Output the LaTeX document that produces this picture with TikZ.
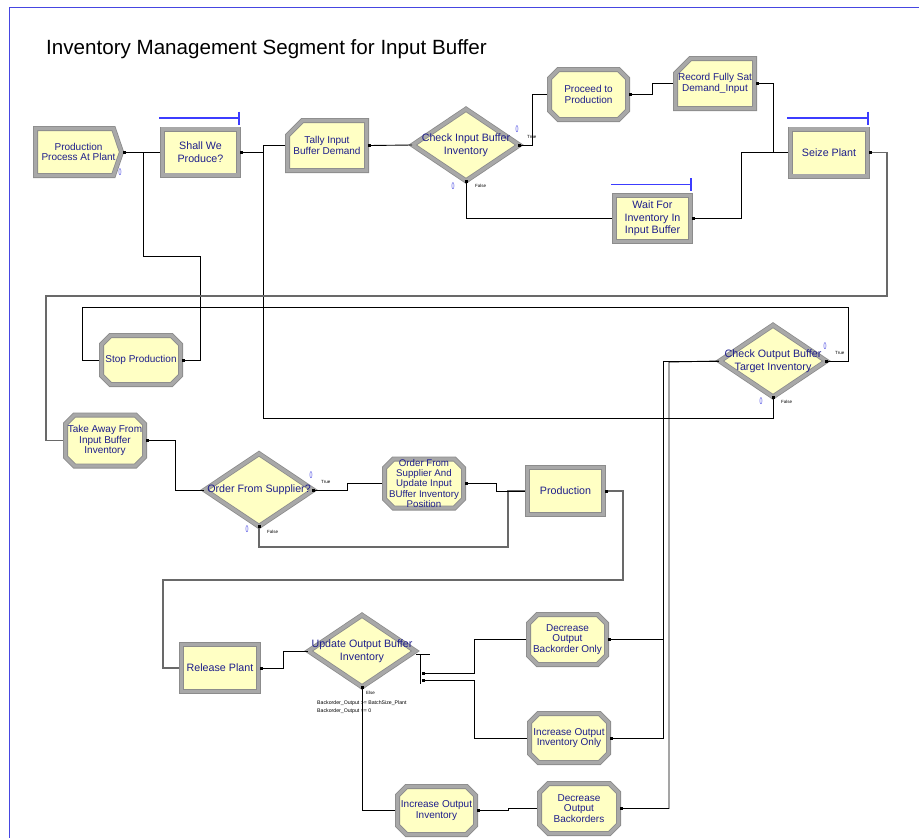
\documentclass[tikz,border=0pt]{standalone}
\usepackage{fontspec}
\setmainfont{Liberation Sans}
\usetikzlibrary{shapes.geometric}
\usetikzlibrary{backgrounds}

\definecolor{modfill}{RGB}{255,255,196}
\definecolor{bevel}{RGB}{168,168,168}
\definecolor{beveldark}{RGB}{140,140,140}
\definecolor{modtext}{RGB}{30,30,140}
\definecolor{resblue}{RGB}{60,60,255}
\definecolor{frameblue}{RGB}{70,70,225}
\definecolor{connalt}{RGB}{105,105,105}

% inner corners of a module node (band is 5pt wide)
\newcommand{\modcorners}[1]{%
  \path (#1.north west) ++(2.5,2.5) coordinate (nw)
        (#1.north east) ++(-2.5,2.5) coordinate (ne)
        (#1.south east) ++(-2.5,-2.5) coordinate (se)
        (#1.south west) ++(2.5,-2.5) coordinate (sw);}
\newcommand{\modbox}[1]{\modcorners{#1}%
  \begin{pgfonlayer}{background}
    \draw[module] (nw) -- (ne) -- (se) -- (sw) -- cycle;
  \end{pgfonlayer}}
\newcommand{\modocto}[1]{\modcorners{#1}%
  \begin{pgfonlayer}{background}
    \draw[module] ([xshift=9pt]nw) -- ([xshift=-9pt]ne) -- ([yshift=-9pt]ne) -- ([yshift=9pt]se)
      -- ([xshift=-9pt]se) -- ([xshift=9pt]sw) -- ([yshift=9pt]sw) -- ([yshift=-9pt]nw) -- cycle;
  \end{pgfonlayer}}
\newcommand{\modrecord}[1]{\modcorners{#1}%
  \begin{pgfonlayer}{background}
    \draw[module] ([xshift=15pt]nw) -- (ne) -- (se) -- (sw) -- ([yshift=-15pt]nw) -- cycle;
  \end{pgfonlayer}}
\newcommand{\modcreate}[1]{\modcorners{#1}%
  \begin{pgfonlayer}{background}
    \draw[module] (nw) -- ([xshift=-8pt]ne) -- ([xshift=-2.5pt]#1.east) -- ([xshift=-8pt]se)
      -- (sw) -- cycle;
  \end{pgfonlayer}}

\begin{document}
\begin{tikzpicture}[x=1pt, y=-1pt,
    module/.style={draw=beveldark, line width=0.8pt, double=bevel, double distance=3.4pt,
      fill=modfill},
    modnode/.style={rectangle, inner sep=0pt, outer sep=0pt},
    sz/.style 2 args={minimum width=#1, minimum height=#2},
    decide/.style={module, diamond, inner sep=0pt, minimum width=107, minimum height=72},
    modlabel/.style={text=modtext, align=center, inner sep=0pt},
    txt/.style={label={[modlabel, font=\fontsize{10}{10.5}\selectfont]center:#1}},
    bigtxt/.style={label={[modlabel, font=\fontsize{10.7}{12.5}\selectfont]center:#1}},
    smalltxt/.style={label={[modlabel, font=\fontsize{9.7}{10.2}\selectfont]center:#1}},
    dtxt/.style={label={[modlabel, font=\fontsize{10.7}{13}\selectfont]center:#1}},
    cnt/.style={text=frameblue, inner sep=0pt, xscale=0.55, font=\fontsize{9.5}{9.5}\selectfont},
    tinylab/.style={inner sep=0pt, anchor=west, font=\fontsize{4.5}{5}\selectfont},
    condlab/.style={inner sep=0pt, anchor=west, font=\fontsize{5.2}{6}\selectfont},
    conn/.style={draw=black, line width=0.9pt},
    connalt/.style={draw=connalt, line width=1.3pt},
    resbar/.style={draw=resblue, line width=1.2pt}]
  \path[use as bounding box] (0,0) rectangle (919,838);
  \draw[frameblue, line width=1pt] (9.5,838) -- (9.5,7.5) -- (919,7.5);

  \node[anchor=base west, inner sep=0pt, font=\fontsize{20.6}{24}\selectfont] (title)
    at (46,54.5) {Inventory Management Segment for Input Buffer};

  % upper row
  \node[modnode, sz={91}{52}, txt={Production\\Process At Plant}] (create) at (78.5,152) {};
  \modcreate{create}
  \node[modnode, sz={81}{51}, bigtxt={Shall We\\Produce?}] (shall) at (200.5,152) {};
  \modbox{shall}
  \node[modnode, sz={84}{55}, txt={Tally Input\\Buffer Demand}] (tally) at (327,145.5) {};
  \modrecord{tally}
  \node[decide, dtxt={Check Input Buffer\\Inventory}] (chkin) at (466,145) {};
  \node[modnode, sz={83}{55}, txt={Proceed to\\Production}] (proceed) at (588.5,94.5) {};
  \modocto{proceed}
  \node[modnode, sz={84}{55}, txt={Record Fully Sat\\Demand\_Input}] (recfull) at (715,83.5) {};
  \modrecord{recfull}
  \node[modnode, sz={82}{52}, bigtxt={Seize Plant}] (seize) at (829,152.5) {};
  \modbox{seize}
  \node[modnode, sz={81}{51}, bigtxt={Wait For\\Inventory In\\Input Buffer}] (waitfor) at (652.5,218.5) {};
  \modbox{waitfor}

  % middle
  \node[modnode, sz={84}{54}, txt={Stop Production}] (stopprod) at (141,360) {};
  \modocto{stopprod}
  \node[decide, dtxt={Check Output Buffer\\Target Inventory}] (chkout) at (773,361) {};
  \node[modnode, sz={84}{56}, txt={Take Away From\\Input Buffer\\Inventory}] (takeaway) at (105,440.5) {};
  \modocto{takeaway}
  \node[decide, minimum width=109, minimum height=73, dtxt={Order From Supplier?}] (orderq) at (259,490) {};
  \node[modnode, sz={84}{54}, smalltxt={Order From\\Supplier And\\Update Input\\BUffer Inventory\\Position}] (orderupd) at (424,483.5) {};
  \modocto{orderupd}
  \node[modnode, sz={81}{52}, bigtxt={Production}] (production) at (565.5,491) {};
  \modbox{production}

  % lower
  \node[modnode, sz={82}{52}, bigtxt={Release Plant}] (release) at (220,668) {};
  \modbox{release}
  \node[decide, dtxt={Update Output Buffer\\Inventory}] (updout) at (362,651) {};
  \node[modnode, sz={83}{55}, txt={Decrease\\Output\\Backorder Only}] (decbo) at (567.5,639.5) {};
  \modocto{decbo}
  \node[modnode, sz={84}{54}, txt={Increase Output\\Inventory Only}] (incinvonly) at (569,738) {};
  \modocto{incinvonly}
  \node[modnode, sz={83}{53}, txt={Increase Output\\Inventory}] (incinv) at (436.5,810.5) {};
  \modocto{incinv}
  \node[modnode, sz={84}{55}, txt={Decrease\\Output\\Backorders}] (decbos) at (579,808.5) {};
  \modocto{decbos}

  % resource bars
  \draw[resbar] (shall.north west) ++(-1,-8.5) -- ++(80,0) ++(0,-6.5) -- ++(0,13);
  \draw[resbar] (seize.north west) ++(-1,-8.5) -- ++(81,0) ++(0,-6.5) -- ++(0,13);
  \draw[resbar] (waitfor.north west) ++(-1,-8.5) -- ++(80,0) ++(0,-6.5) -- ++(0,13);

  % counters and branch labels
  \node[cnt] (n1) at (120,172) {0};
  \node[cnt] (n2) at (517,129) {0};
  \node[cnt] (n3) at (453,186) {0};
  \node[cnt] (n4) at (311,475) {0};
  \node[cnt] (n5) at (247,529) {0};
  \node[cnt] (n6) at (825,346) {0};
  \node[cnt] (n7) at (761,401) {0};
  \node[tinylab] (t1) at (527,137) {True};
  \node[tinylab] (f1) at (475,186) {False};
  \node[tinylab] (t2) at (321,482) {True};
  \node[tinylab] (f2) at (267,532) {False};
  \node[tinylab] (t3) at (835,353) {True};
  \node[tinylab] (f3) at (781,402) {False};
  \node[tinylab] (e1) at (366,693) {Else};
  \node[condlab] (k1) at (317,703) {Backorder\_Output  >= BatchSize\_Plant};
  \node[condlab] (k2) at (317,711) {Backorder\_Output  == 0};

  % connectors
  \coordinate (jcr) at (143,152);
  \coordinate (jtl) at (263,145.5);
  \coordinate (uo1) at (423,673);
  \coordinate (uo2) at (423,680);
  \draw[conn] (create.east) -- (shall.west);
  \draw[conn] (stopprod.east) -| (200,256) -| (jcr);
  \draw[conn] (shall.east) -| (jtl) -- (tally.west);
  \draw[conn] (chkout.south) |- (263,418) -- (jtl);
  \draw[conn] (tally.east) -- (chkin.west);
  \draw[conn] (chkin.east) -- ++(13,0) |- (proceed.west);
  \draw[conn] (chkin.south) |- (waitfor.west);
  \draw[conn] (proceed.east) -- ++(22,0) |- (recfull.west);
  \draw[conn] (recfull.east) -- ++(16,0) |- (seize.west);
  \draw[conn] (waitfor.east) -- ++(48,0) |- (seize.west);
  \draw[connalt] (seize.east) -| (887,296) -| (46,440.5) -- (takeaway.west);
  \draw[conn] (chkout.east) -| (848,307) -| (82,360) -- (stopprod.west);
  \draw[conn] (takeaway.east) -| (175,490) -- (orderq.west);
  \draw[conn] (orderq.east) -- ++(34,0) |- (orderupd.west);
  \draw[connalt] (orderq.south) |- (508,547) |- (production.west);
  \draw[conn] (orderupd.east) -- ++(30,0) |- (production.west);
  \draw[connalt] (production.east) -| (623,580) -| (163,668) -- (release.west);
  \draw[conn] (release.east) -- ++(22,0) |- (updout.west);
  \draw[conn] (updout.east) ++(0,3) -- ++(14,0);
  \draw[conn] (updout.east) ++(5,3) -- ++(0,30);
  \draw[conn] (uo1) -- ++(51,0) |- (decbo.west);
  \draw[conn] (uo2) -- ++(51,0) |- (incinvonly.west);
  \draw[conn] (updout.south) |- (incinv.west);
  \draw[conn] (incinv.east) -- ++(30,0) |- (decbos.west);
  \draw[conn] (decbo.east) -| (663,361) -- (chkout.west);
  \draw[conn] (incinvonly.east) -| (663,639.5);
  \draw[conn] (decbos.east) -| (669,362) -- (chkout.west);

  % exit points
  \foreach \p in {create.east, shall.east, tally.east, chkin.east, chkin.south, proceed.east,
      recfull.east, seize.east, waitfor.east, stopprod.east, takeaway.east, orderq.east,
      orderq.south, orderupd.east, production.east, chkout.east, chkout.south, release.east,
      updout.south, uo1, uo2, decbo.east, incinvonly.east, decbos.east, incinv.east}
    \fill (\p) ++(-1.5,-1.5) rectangle ++(3,3);
\end{tikzpicture}
\end{document}
